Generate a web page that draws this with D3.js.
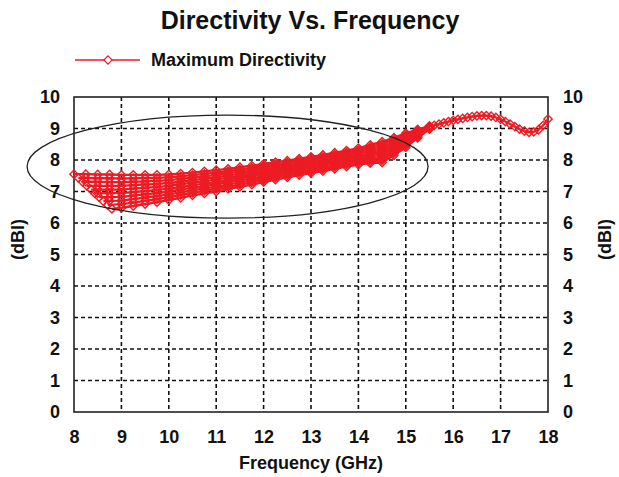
<!DOCTYPE html>
<html>
<head>
<meta charset="utf-8">
<script src="https://cdn.jsdelivr.net/npm/d3@7"></script>
<style>
  body { margin: 0; background: #fff; }
  svg { display: block; font-family: "Liberation Sans", Arial, sans-serif; }
  .axis text { font-weight: bold; font-size: 18px; fill: #111; }
</style>
</head>
<body>
<svg id="chart"></svg>
<script>
// tick values
const xTicks = [8, 9, 10, 11, 12, 13, 14, 15, 16, 17, 18];
const yTicks = [0, 1, 2, 3, 4, 5, 6, 7, 8, 9, 10];

// frequency grid shared by the overlapping sweeps (GHz)
const sweepFreqs = [
  8.25, 8.5, 8.75, 9, 9.25, 9.5, 9.75, 10, 10.25, 10.5, 10.75, 11, 11.25, 11.5,
  11.75, 12, 12.25, 12.5, 12.75, 13, 13.25, 13.5, 13.75, 14, 14.25, 14.5, 14.75,
  15, 15.25, 15.5,
];

// first point of every sweep [GHz, dBi] (the left edge of the fan)
const sweepStarts = [
  [8.0, 7.55], [8.09, 7.43], [8.18, 7.31], [8.27, 7.18], [8.36, 7.06],
  [8.44, 6.94], [8.53, 6.82], [8.62, 6.69], [8.71, 6.57], [8.8, 6.45],
];

// directivity of each sweep (columns) at each grid frequency (rows)
const sweepValues = [
  [7.55, 7.43, 7.31, null, null, null, null, null, null, null],
  [7.54, 7.42, 7.31, 7.18, 7.06, 6.94, null, null, null, null],
  [7.54, 7.42, 7.30, 7.18, 7.06, 6.95, 6.82, 6.70, null, null],
  [7.53, 7.41, 7.30, 7.18, 7.06, 6.95, 6.83, 6.71, 6.60, 6.48],
  [7.53, 7.42, 7.31, 7.20, 7.09, 6.98, 6.87, 6.76, 6.65, 6.54],
  [7.53, 7.43, 7.32, 7.22, 7.12, 7.01, 6.91, 6.81, 6.70, 6.60],
  [7.53, 7.43, 7.34, 7.24, 7.14, 7.05, 6.95, 6.85, 6.76, 6.66],
  [7.54, 7.45, 7.36, 7.27, 7.18, 7.09, 7.00, 6.91, 6.82, 6.73],
  [7.57, 7.48, 7.40, 7.31, 7.23, 7.14, 7.06, 6.97, 6.89, 6.80],
  [7.60, 7.52, 7.44, 7.36, 7.28, 7.20, 7.12, 7.04, 6.96, 6.88],
  [7.64, 7.56, 7.48, 7.41, 7.33, 7.25, 7.17, 7.10, 7.02, 6.94],
  [7.68, 7.60, 7.53, 7.45, 7.38, 7.30, 7.23, 7.15, 7.08, 7.00],
  [7.72, 7.65, 7.58, 7.51, 7.44, 7.36, 7.29, 7.22, 7.15, 7.08],
  [7.77, 7.70, 7.63, 7.56, 7.49, 7.43, 7.36, 7.29, 7.22, 7.15],
  [7.82, 7.75, 7.69, 7.62, 7.55, 7.49, 7.42, 7.35, 7.29, 7.22],
  [7.88, 7.82, 7.75, 7.69, 7.62, 7.56, 7.49, 7.43, 7.36, 7.30],
  [7.93, 7.87, 7.81, 7.75, 7.69, 7.62, 7.56, 7.50, 7.44, 7.38],
  [7.98, 7.92, 7.86, 7.80, 7.74, 7.69, 7.63, 7.57, 7.51, 7.45],
  [8.04, 7.98, 7.92, 7.87, 7.81, 7.75, 7.69, 7.64, 7.58, 7.52],
  [8.10, 8.04, 7.98, 7.93, 7.87, 7.81, 7.75, 7.70, 7.64, 7.58],
  [8.16, 8.10, 8.05, 7.99, 7.93, 7.88, 7.82, 7.76, 7.71, 7.65],
  [8.23, 8.17, 8.12, 8.06, 8.00, 7.95, 7.89, 7.83, 7.78, 7.72],
  [8.30, 8.24, 8.19, 8.13, 8.07, 8.02, 7.96, 7.90, 7.85, 7.79],
  [8.38, 8.32, 8.26, 8.20, 8.14, 8.09, 8.03, 7.97, 7.91, 7.85],
  [8.48, 8.42, 8.35, 8.29, 8.22, 8.16, 8.09, 8.03, 7.96, 7.90],
  [8.58, 8.51, 8.43, 8.36, 8.29, 8.21, 8.14, 8.07, 7.99, 7.92],
  [8.71, 8.65, 8.59, 8.52, 8.46, 8.40, 8.34, 8.27, 8.21, 8.15],
  [8.85, 8.80, 8.75, 8.70, 8.65, 8.60, 8.55, 8.50, 8.45, 8.40],
  [8.97, 8.94, 8.91, 8.88, 8.85, 8.82, 8.79, 8.76, 8.73, 8.70],
  [9.08, 9.07, 9.06, 9.05, 9.04, 9.03, 9.02, 9.01, 9.00, 8.98],
];

// single curve above 15.5 GHz
const tailFreqs = [
  15.5, 15.6, 15.7, 15.8, 15.9, 16.0, 16.1, 16.2, 16.3, 16.4, 16.5, 16.6, 16.7,
  16.8, 16.9, 17.0, 17.1, 17.2, 17.3, 17.4, 17.5, 17.6, 17.7, 17.8, 17.9, 18.0,
];
const tailValues = [
  9.06, 9.10, 9.14, 9.18, 9.22, 9.26, 9.29, 9.32, 9.35, 9.38, 9.40, 9.41, 9.41,
  9.39, 9.35, 9.29, 9.22, 9.14, 9.06, 8.98, 8.92, 8.88, 8.89, 8.96, 9.10, 9.30,
];

// annotation ellipse (centre GHz / dBi, radii GHz / dBi)
const ellipseCenter = [11.24, 7.79];
const ellipseRadii = [4.23, 1.635];

const containerWidth = 619;
const containerHeight = 477;
const margin = { top: 97, right: 71, bottom: 65, left: 74 };
const width = containerWidth - margin.left - margin.right;
const height = containerHeight - margin.top - margin.bottom;
const red = "#ec1c24";

const svg = d3
  .select("#chart")
  .attr("width", containerWidth)
  .attr("height", containerHeight);

const xScale = d3.scaleLinear().domain([8, 18]).range([0, width]);
const yScale = d3.scaleLinear().domain([0, 10]).range([height, 0]);

const chart = svg
  .append("g")
  .attr("transform", `translate(${margin.left},${margin.top})`);

// dashed grid
chart
  .selectAll(".grid-x")
  .data(xTicks.slice(1, -1))
  .join("line")
  .attr("class", "grid-x")
  .attr("x1", (d) => xScale(d))
  .attr("x2", (d) => xScale(d))
  .attr("y1", 0)
  .attr("y2", height)
  .attr("stroke", "#111")
  .attr("stroke-width", 1.6)
  .attr("stroke-dasharray", "4,3");

chart
  .selectAll(".grid-y")
  .data(yTicks.slice(1, -1))
  .join("line")
  .attr("class", "grid-y")
  .attr("x1", 0)
  .attr("x2", width)
  .attr("y1", (d) => yScale(d))
  .attr("y2", (d) => yScale(d))
  .attr("stroke", "#111")
  .attr("stroke-width", 1.6)
  .attr("stroke-dasharray", "4,3");

// frame
chart
  .append("rect")
  .attr("width", width)
  .attr("height", height)
  .attr("fill", "none")
  .attr("stroke", "#222")
  .attr("stroke-width", 1.6);

// axes (labels only)
const xAxis = d3.axisBottom(xScale).tickValues(xTicks).tickSize(0).tickPadding(18);
const yAxisLeft = d3.axisLeft(yScale).tickValues(yTicks).tickSize(0).tickPadding(14);
const yAxisRight = d3.axisRight(yScale).tickValues(yTicks).tickSize(0).tickPadding(15);

chart.append("g").attr("class", "axis").attr("transform", `translate(0,${height})`).call(xAxis);
chart.append("g").attr("class", "axis").call(yAxisLeft);
chart.append("g").attr("class", "axis").attr("transform", `translate(${width},0)`).call(yAxisRight);
chart.selectAll(".axis .domain").remove();

// sweeps
const sweeps = sweepStarts.map((start, k) => {
  const pts = [start];
  sweepFreqs.forEach((f, i) => {
    if (sweepValues[i][k] !== null) pts.push([f, sweepValues[i][k]]);
  });
  return pts;
});
const tail = tailFreqs.map((f, i) => [f, tailValues[i]]);
const allTraces = sweeps.concat([tail]);

const line = d3
  .line()
  .x((d) => xScale(d[0]))
  .y((d) => yScale(d[1]));

chart
  .selectAll(".trace")
  .data(allTraces)
  .join("path")
  .attr("class", "trace")
  .attr("d", line)
  .attr("fill", "none")
  .attr("stroke", red)
  .attr("stroke-width", 2.3);

const diamond = d3.symbol().type(d3.symbolDiamond2).size(44);

chart
  .selectAll(".marker")
  .data(allTraces.flat())
  .join("path")
  .attr("class", "marker")
  .attr("d", diamond)
  .attr("transform", (d) => `translate(${xScale(d[0])},${yScale(d[1])})`)
  .attr("fill", "none")
  .attr("stroke", red)
  .attr("stroke-width", 1.4);

// annotation ellipse
chart
  .append("ellipse")
  .attr("cx", xScale(ellipseCenter[0]))
  .attr("cy", yScale(ellipseCenter[1]))
  .attr("rx", xScale(ellipseCenter[0] + ellipseRadii[0]) - xScale(ellipseCenter[0]))
  .attr("ry", yScale(ellipseCenter[1] - ellipseRadii[1]) - yScale(ellipseCenter[1]))
  .attr("fill", "none")
  .attr("stroke", "#222")
  .attr("stroke-width", 1.3);

// title
svg
  .append("text")
  .attr("x", 310)
  .attr("y", 29)
  .attr("text-anchor", "middle")
  .attr("font-weight", "bold")
  .attr("font-size", 25)
  .attr("fill", "#111")
  .text("Directivity Vs. Frequency");

// legend
const legend = svg.append("g").attr("transform", "translate(75,60)");
legend
  .append("line")
  .attr("x1", 0)
  .attr("x2", 65)
  .attr("stroke", red)
  .attr("stroke-width", 1.6);
legend
  .append("path")
  .attr("d", diamond)
  .attr("transform", "translate(33,0)")
  .attr("fill", "#fff")
  .attr("stroke", red)
  .attr("stroke-width", 1.2);
legend
  .append("text")
  .attr("x", 76)
  .attr("dy", "0.35em")
  .attr("font-weight", "bold")
  .attr("font-size", 18)
  .attr("fill", "#111")
  .text("Maximum Directivity");

// axis titles
svg
  .append("text")
  .attr("x", margin.left + width / 2)
  .attr("y", 469)
  .attr("text-anchor", "middle")
  .attr("font-weight", "bold")
  .attr("font-size", 18)
  .attr("fill", "#111")
  .text("Frequency (GHz)");

[18, 605].forEach((x) => {
  svg
    .append("text")
    .attr("transform", `translate(${x},${margin.top + height / 2 - 15}) rotate(-90)`)
    .attr("text-anchor", "middle")
    .attr("dy", "0.35em")
    .attr("font-weight", "bold")
    .attr("font-size", 18)
    .attr("fill", "#111")
    .text("(dBI)");
});
</script>
</body>
</html>
